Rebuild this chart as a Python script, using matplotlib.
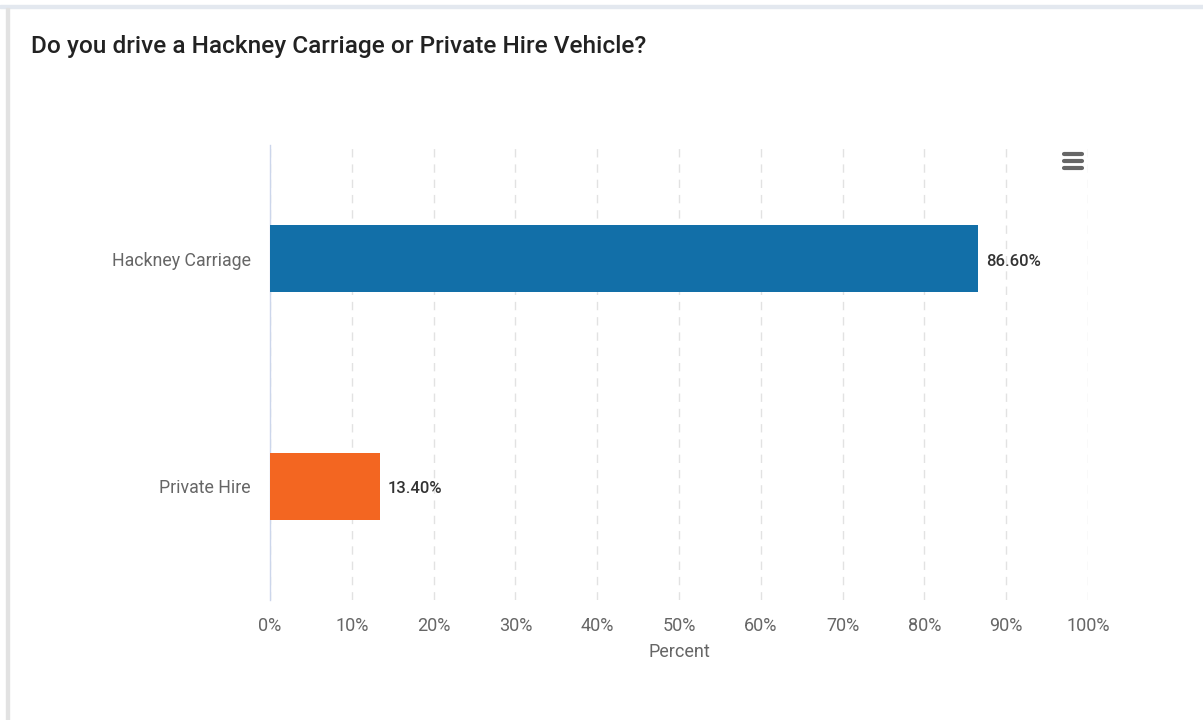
import matplotlib.pyplot as plt
from matplotlib.patches import Rectangle
from matplotlib.lines import Line2D

categories = ["Hackney Carriage", "Private Hire"]
percent = [86.60, 13.40]
colors = ["#126fa8", "#f36621"]
ticks = [0, 10, 20, 30, 40, 50, 60, 70, 80, 90, 100]

plt.rcParams['font.family'] = ['Roboto', 'DejaVu Sans']


def main():
    fig = plt.figure(figsize=(12.03, 7.2), dpi=100)

    # card edges
    fig.patches.append(Rectangle((0, 1 - 8 / 720), 1, 3 / 720, transform=fig.transFigure,
                                 color="#e3e8ef", zorder=0))
    fig.patches.append(Rectangle((6 / 1203, 0), 3 / 1203, 1 - 8 / 720, transform=fig.transFigure,
                                 color="#e2e2e2", zorder=0))

    ax = fig.add_axes([270 / 1203, 1 - 600 / 720, 818 / 1203, 455 / 720])
    y = list(range(len(categories)))
    ax.barh(y, percent, height=0.295, color=colors, zorder=3)
    for yi, v in zip(y, percent):
        ax.text(v + 1.0, yi + 0.01, f"{v:.2f}%", va="center", ha="left",
                fontsize=12, color="#333333", fontweight="medium", zorder=4)

    ax.set_xlim(0, 100)
    ax.set_ylim(1.5, -0.5)
    ax.set_yticks(y)
    ax.set_yticklabels(categories, fontsize=12.8, color="#666666")
    ax.set_xticks(ticks)
    ax.set_xticklabels([f"{t}%" for t in ticks], fontsize=13, color="#666666")
    ax.tick_params(length=0)
    ax.tick_params(axis="x", pad=12)
    ax.tick_params(axis="y", pad=14)
    ax.xaxis.grid(True, linestyle=(0, (6, 5)), color="#e2e2e2", linewidth=1)
    ax.set_axisbelow(True)
    for s in ["top", "right", "bottom"]:
        ax.spines[s].set_visible(False)
    ax.spines["left"].set_color("#ccd6eb")
    ax.spines["left"].set_linewidth(1)
    ax.set_xlabel("Percent", fontsize=13, color="#666666", labelpad=6)

    fig.text(31 / 1203, 1 - 47 / 720, "Do you drive a Hackney Carriage or Private Hire Vehicle?",
             fontsize=17.6, color="#222222", fontweight="medium", va="center", ha="left")

    # menu icon
    for yy in [154, 161, 168]:
        fig.lines.append(Line2D([1064 / 1203, 1082 / 1203], [1 - yy / 720, 1 - yy / 720],
                                transform=fig.transFigure, color="#666666", linewidth=3,
                                solid_capstyle="round"))

    fig.savefig("out.png", dpi=100)


if __name__ == "__main__":
    main()
